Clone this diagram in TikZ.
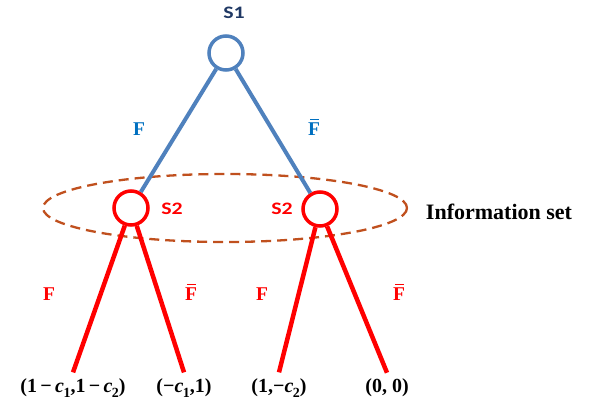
\documentclass[tikz,border=0pt]{standalone}
\usepackage{fontspec}
\setmainfont{Liberation Serif}
\newfontfamily\calib{Carlito}
\definecolor{lineblue}{RGB}{79,129,189}
\definecolor{labblue}{RGB}{0,112,192}
\definecolor{navy}{RGB}{31,56,100}
\definecolor{infored}{RGB}{192,80,30}
\newcommand{\cc}[1]{\textit{c}\kern-0.5pt\raisebox{-0.25em}{\fontsize{14}{15}\selectfont #1}}
\newcommand{\mi}{\,\char"2212\,}
\newcommand{\payA}{(1\mi\cc{1},1\mi\cc{2})}
\newcommand{\payB}{(\char"2212\cc{1},1)}
\newcommand{\payC}{(1,\char"2212\cc{2})}
\newcommand{\payD}{(0,\ 0)}
\newcommand{\Fbar}{\makebox[0pt][l]{\kern0.12em\raisebox{0.8em}{\rule{0.42em}{0.07em}}}F}
\newcommand{\wide}[1]{\scalebox{1.25}[1]{#1}}
\begin{document}
\begin{tikzpicture}[x=1pt,y=-1pt,
  player/.style={circle, draw, line width=3.5pt, minimum size=34pt, inner sep=0pt, fill=white},
  bluenode/.style={player, draw=lineblue},
  rednode/.style={player, draw=red},
  blueedge/.style={draw=lineblue, line width=4pt},
  rededge/.style={draw=red, line width=4.5pt},
  plab/.style={font=\calib\bfseries\fontsize{17.5}{20}\selectfont},
  alab/.style={font=\bfseries\fontsize{19.5}{22}\selectfont},
  payoff/.style={font=\bfseries\fontsize{20}{23}\selectfont, inner xsep=0pt, inner ysep=6pt}
]
\useasboundingbox (0,0) rectangle (597,406);
% information set
\draw[infored, line width=2.3pt, dash pattern=on 10pt off 6pt] (225,208) ellipse [x radius=182, y radius=34];
\node[font=\bfseries\fontsize{22}{26}\selectfont] (info) at (499,212) {Information set};
% nodes
\node[bluenode] (s1) at (226,53) {};
\node[rednode] (s2a) at (131,208) {};
\node[rednode] (s2b) at (320,209) {};
\node[plab, text=navy] (l1) at (234,13) {\wide{S1}};
\node[plab, text=red] (l2a) at (172,209) {\wide{S2}};
\node[plab, text=red] (l2b) at (282,209) {\wide{S2}};
% payoffs
\node[payoff] (p1) at (73,388) {\payA};
\node[payoff] (p2) at (184,388) {\payB};
\node[payoff] (p3) at (279,388) {\payC};
\node[payoff] (p4) at (387,388) {\payD};
% edges
\draw[blueedge] (s1) -- (s2a);
\draw[blueedge] (s1) -- (s2b);
\draw[rededge] (s2a) -- (p1.north);
\draw[rededge] (s2a) -- (p2.north);
\draw[rededge] (s2b) -- (p3.north);
\draw[rededge] (s2b) -- (p4.north);
% action labels
\node[alab, text=labblue] (f1) at (139,129) {F};
\node[alab, text=labblue] (f2) at (314,127) {\Fbar};
\node[alab, text=red] (f3) at (49,294) {F};
\node[alab, text=red] (f4) at (191,292) {\Fbar};
\node[alab, text=red] (f5) at (262,294) {F};
\node[alab, text=red] (f6) at (399,292) {\Fbar};
\end{tikzpicture}
\end{document}
